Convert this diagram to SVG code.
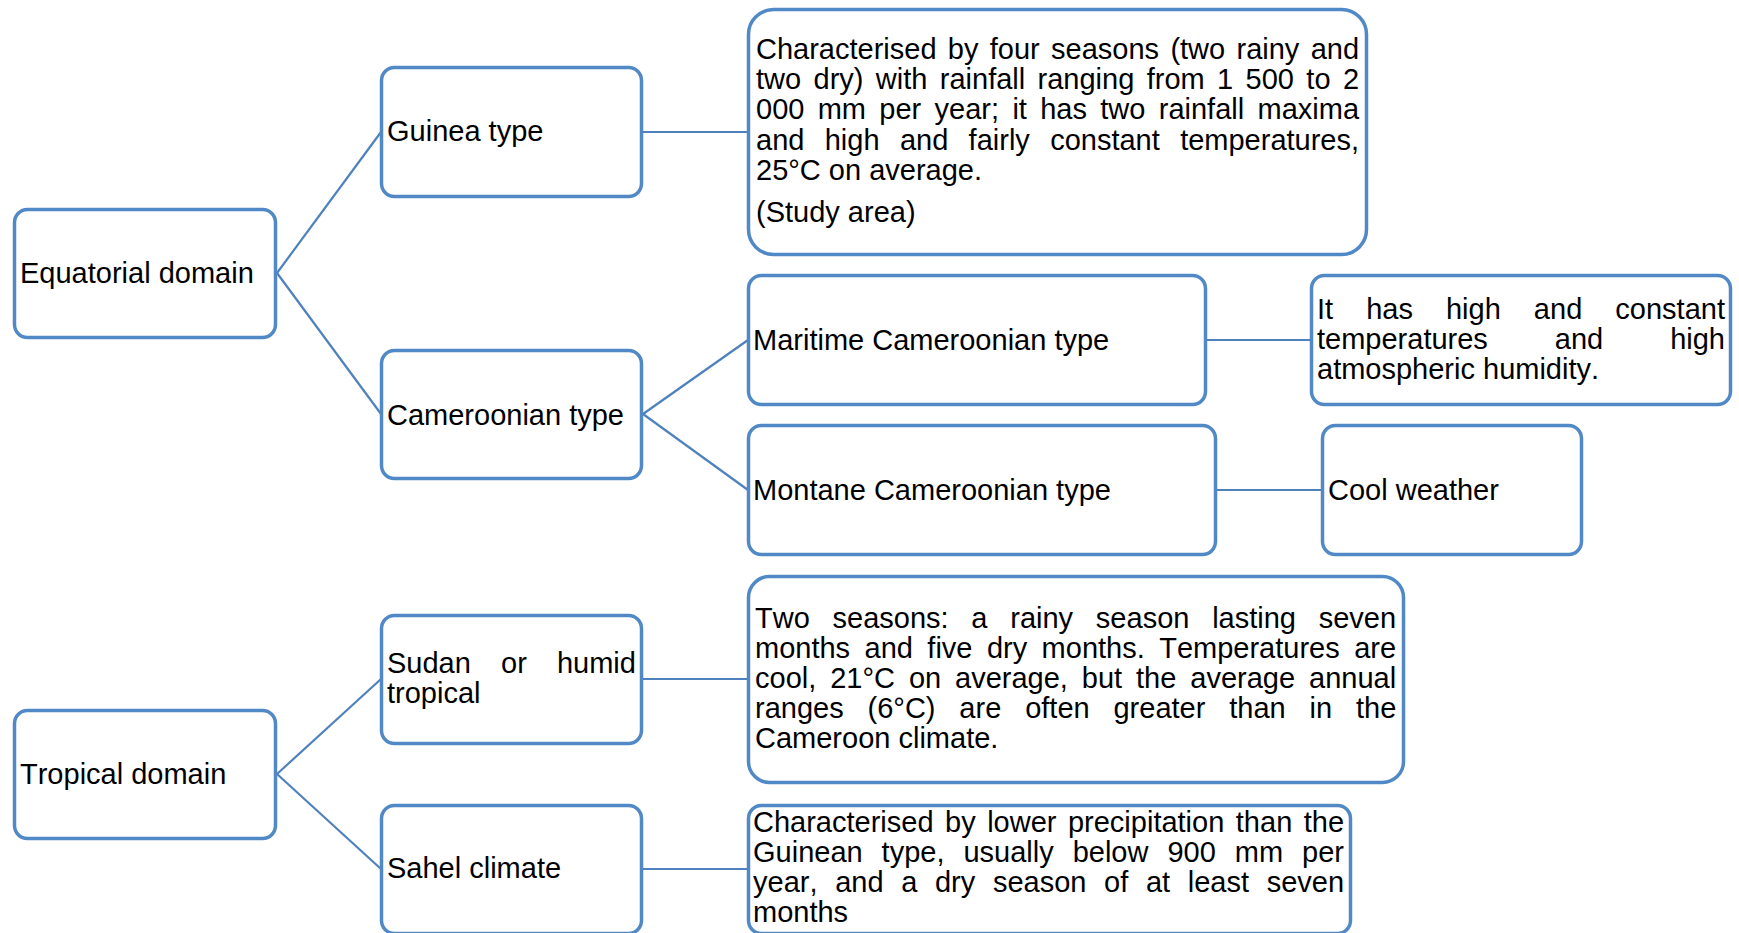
<svg xmlns="http://www.w3.org/2000/svg" width="1739" height="933" viewBox="0 0 1739 933">
<style>
.box{fill:#ffffff;stroke:#5089c6;stroke-width:3.5}
.con{stroke:#4f81bd;stroke-width:2.2;fill:none}
text{font-family:"Liberation Sans",Arial,sans-serif;font-size:29px;fill:#000000;font-kerning:none}
</style>
<rect width="1739" height="933" fill="#ffffff"/>
<g id="connectors">
<line class="con" x1="277" y1="273" x2="381" y2="132"/>
<line class="con" x1="277" y1="273" x2="381" y2="414"/>
<line class="con" x1="643" y1="132" x2="748" y2="132"/>
<line class="con" x1="643" y1="414" x2="748" y2="340"/>
<line class="con" x1="643" y1="414" x2="748" y2="490"/>
<line class="con" x1="1207" y1="340" x2="1311" y2="340"/>
<line class="con" x1="1217" y1="490" x2="1322" y2="490"/>
<line class="con" x1="277" y1="774" x2="381" y2="679"/>
<line class="con" x1="277" y1="774" x2="381" y2="869"/>
<line class="con" x1="643" y1="679" x2="748" y2="679"/>
<line class="con" x1="643" y1="869" x2="748" y2="869"/>
</g>
<g id="equatorial">
<rect class="box" x="14.5" y="209.5" width="261" height="128" rx="13"/>
<text x="20" y="283">Equatorial domain</text>
</g>
<g id="guinea">
<rect class="box" x="381.5" y="67.5" width="260" height="129" rx="13"/>
<text x="387" y="141">Guinea type</text>
</g>
<g id="guinea-desc">
<rect class="box" x="748.5" y="9.5" width="618" height="245" rx="25"/>
<text x="756" y="59" word-spacing="3.26">Characterised by four seasons (two rainy and</text>
<text x="756" y="89" word-spacing="4.32">two dry) with rainfall ranging from 1 500 to 2</text>
<text x="756" y="119" word-spacing="5.27">000 mm per year; it has two rainfall maxima</text>
<text x="756" y="150" word-spacing="12.28">and high and fairly constant temperatures,</text>
<text x="756" y="180">25°C on average.</text>
<text x="756" y="222">(Study area)</text>
</g>
<g id="cameroonian">
<rect class="box" x="381.5" y="350.5" width="260" height="128" rx="13"/>
<text x="387" y="425">Cameroonian type</text>
</g>
<g id="maritime">
<rect class="box" x="748.5" y="275.5" width="457" height="129" rx="13"/>
<text x="753" y="350">Maritime Cameroonian type</text>
</g>
<g id="maritime-desc">
<rect class="box" x="1311.5" y="275.5" width="419" height="129" rx="13"/>
<text x="1317" y="319" word-spacing="25.0">It has high and constant</text>
<text x="1317" y="349" word-spacing="58.9">temperatures and high</text>
<text x="1317" y="379">atmospheric humidity.</text>
</g>
<g id="montane">
<rect class="box" x="748.5" y="425.5" width="467" height="129" rx="13"/>
<text x="753" y="500">Montane Cameroonian type</text>
</g>
<g id="montane-desc">
<rect class="box" x="1322.5" y="425.5" width="259" height="129" rx="13"/>
<text x="1328" y="500">Cool weather</text>
</g>
<g id="tropical">
<rect class="box" x="14.5" y="710.5" width="261" height="128" rx="13"/>
<text x="20" y="784">Tropical domain</text>
</g>
<g id="sudan">
<rect class="box" x="381.5" y="615.5" width="260" height="128" rx="13"/>
<text x="387" y="673" word-spacing="22.1">Sudan or humid</text>
<text x="387" y="703">tropical</text>
</g>
<g id="sudan-desc">
<rect class="box" x="748.5" y="576.5" width="655" height="206" rx="21"/>
<text x="755" y="628" word-spacing="14.7">Two seasons: a rainy season lasting seven</text>
<text x="755" y="658" word-spacing="6.37">months and five dry months. Temperatures are</text>
<text x="755" y="688" word-spacing="5.86">cool, 21°C on average, but the average annual</text>
<text x="755" y="718" word-spacing="15.8">ranges (6°C) are often greater than in the</text>
<text x="755" y="748">Cameroon climate.</text>
</g>
<g id="sahel">
<rect class="box" x="381.5" y="805.5" width="260" height="128" rx="13"/>
<text x="387" y="878">Sahel climate</text>
</g>
<g id="sahel-desc">
<rect class="box" x="748.5" y="805.5" width="602" height="128" rx="13"/>
<text x="753" y="832" word-spacing="3.44">Characterised by lower precipitation than the</text>
<text x="753" y="862" word-spacing="10.9">Guinean type, usually below 900 mm per</text>
<text x="753" y="892" word-spacing="9.6">year, and a dry season of at least seven</text>
<text x="753" y="922">months</text>
</g>
</svg>
